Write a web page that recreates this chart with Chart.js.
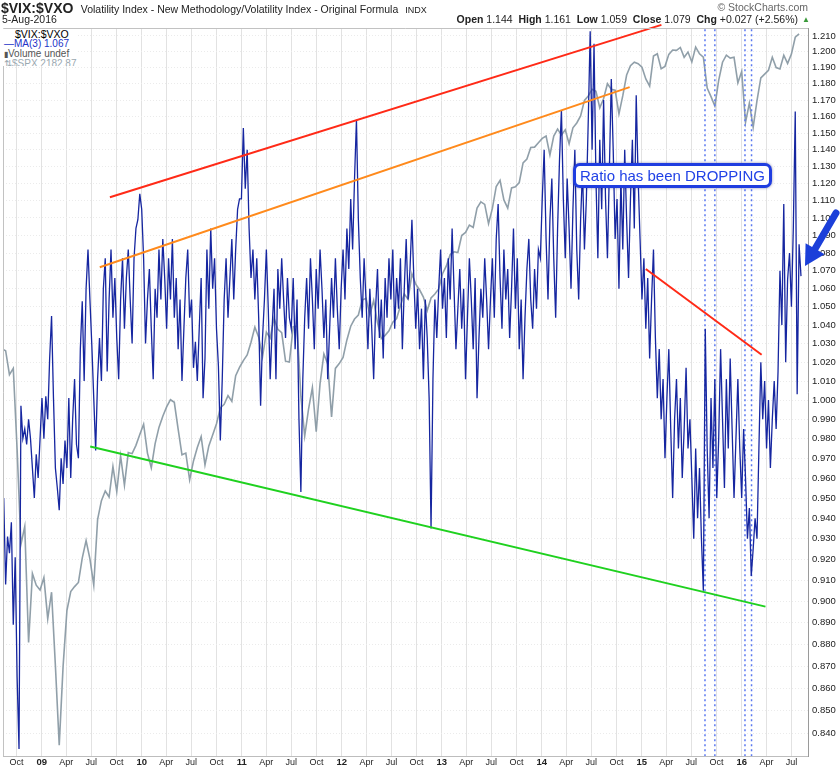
<!DOCTYPE html>
<html>
<head>
<meta charset="utf-8">
<script src="https://cdn.jsdelivr.net/npm/chart.js@4.4.1/dist/chart.umd.min.js"></script>
<style>
  body { margin: 0; background: #fff; }
  #wrap { position: relative; width: 840px; height: 768px; font-family: "Liberation Sans", Arial, sans-serif; }
  #ratioChart { position: absolute; left: 0; top: 0; }
  .txt { position: absolute; white-space: nowrap; color: #222; }
  .legend { position: absolute; left: 3px; top: 29px; width: 74px; height: 37px; background: #fff; overflow: hidden; font-size: 10px; }
  .legend div { position: absolute; left: 1px; white-space: nowrap; line-height: 10px; }
  .callout { position: absolute; left: 573px; top: 163px; width: 193px; height: 19px; border: 3px solid #1f3de0;
             border-radius: 7px; background: #fff; box-shadow: 0 0 3px rgba(0, 0, 90, 0.45);
             color: #2142e6; font-size: 15px; line-height: 19px; text-align: center; }
</style>
</head>
<body>
<div id="wrap">
  <canvas id="ratioChart" width="840" height="768"></canvas>

  <div class="txt" style="left:1px; top:0; line-height:15px;">
    <span style="font-weight:bold; font-size:14px;">$VIX:$VXO</span>
    <span style="font-size:10.5px;">&nbsp;Volatility Index - New Methodology/Volatility Index - Original Formula</span>
    <span style="font-size:9px;">&nbsp;INDX</span>
  </div>
  <div class="txt" style="left:2px; top:13px; font-size:10.5px;">5-Aug-2016</div>
  <div class="txt" style="right:32px; top:1px; font-size:10.5px; color:#666;">&copy; StockCharts.com</div>
  <div class="txt" style="right:42px; top:13px; font-size:10.5px;">
    <b>Open</b> 1.144&nbsp; <b>High</b> 1.161&nbsp; <b>Low</b> 1.059&nbsp; <b>Close</b> 1.079&nbsp; <b>Chg</b> +0.027 (+2.56%)
  </div>
  <div class="txt" style="left:802px; top:15px; font-size:8px; color:#3a9a3a;">&#9650;</div>

  <div class="legend">
    <div style="left:12px; top:0; font-size:10.5px;">$VIX:$VXO</div>
    <div style="top:10px; color:#2233c8;">&#8212;MA(3) 1.067</div>
    <div style="top:20px; color:#555;"><span style="font-size:8px;">&#9646;</span>Volume undef</div>
    <div style="top:30px; color:#9aa8b0;">&#8645;$SPX 2182.87</div>
  </div>

  <div class="callout">Ratio has been DROPPING</div>
</div>

<script>
// $VIX:$VXO MA(3), one reading a week starting 8-Aug-2008
const ratioStart = '2008-08-08';
const ratioMA3 = [
  // Aug - Dec 2008
  0.921, 0.950, 0.908, 0.931, 0.923, 0.938, 0.889, 0.921, 0.865, 0.833,
  0.997, 0.980, 0.985, 0.977, 0.990, 0.980, 0.965, 0.950, 0.972, 0.960, 0.980,
  // 2009 H1
  1.001, 0.980, 1.002, 0.990, 1.022, 1.045, 1.001, 0.965, 0.955, 0.944,
  0.970, 0.957, 0.979, 0.965, 1.001, 0.960, 0.990, 1.011, 0.977, 0.970,
  1.027, 1.053, 1.010, 1.060, 1.082, 1.054,
  // 2009 H2
  1.029, 1.001, 0.974, 1.011, 1.033, 1.010, 1.060, 1.077, 1.015, 1.054,
  1.082, 1.044, 1.066, 1.033, 1.011, 1.054, 1.077, 1.038, 1.066, 1.082,
  1.054, 1.030, 1.077, 1.094, 1.099, 1.114,
  // 2010 H1
  1.105, 1.077, 1.030, 1.054, 1.071, 1.038, 1.011, 1.060, 1.044, 1.082,
  1.054, 1.088, 1.066, 1.038, 1.077, 1.054, 1.088, 1.044, 1.066, 1.027,
  1.054, 1.010, 1.038, 1.066, 1.082, 1.044,
  // 2010 H2
  1.054, 1.017, 1.031, 1.010, 1.038, 1.066, 1.001, 1.022, 1.082, 1.049,
  1.094, 1.060, 1.077, 1.038, 1.018, 0.979, 1.011, 1.054, 1.077, 1.044,
  1.066, 1.088, 1.054, 1.082, 1.105, 1.111,
  // 2011 H1
  1.111, 1.153, 1.117, 1.140, 1.094, 1.066, 1.082, 1.054, 1.077, 1.044,
  0.997, 1.033, 1.054, 1.082, 1.049, 1.011, 1.038, 1.060, 1.011, 1.071,
  1.049, 1.077, 1.054, 1.033, 1.066, 1.044,
  // 2011 H2
  1.038, 1.066, 1.027, 1.054, 0.990, 0.953, 1.011, 1.044, 1.066, 1.038,
  1.077, 1.054, 1.027, 1.071, 1.049, 1.082, 1.060, 1.033, 1.054, 1.011,
  1.038, 1.066, 1.044, 1.077, 1.049, 1.027,
  // 2012 H1
  1.060, 1.082, 1.054, 1.094, 1.071, 1.111, 1.082, 1.123, 1.158, 1.099,
  1.066, 1.044, 1.077, 1.054, 1.027, 1.060, 1.038, 1.011, 1.049, 1.071,
  1.033, 1.054, 1.022, 1.066, 1.044, 1.077,
  // 2012 H2
  1.054, 1.082, 1.038, 1.066, 1.049, 1.077, 1.027, 1.060, 1.088, 1.054,
  1.071, 1.099, 1.066, 1.038, 1.060, 1.027, 1.049, 1.011, 1.054, 1.033,
  1.001, 0.935, 1.011, 1.054, 1.033, 1.060,
  // 2013 H1
  1.082, 1.049, 1.066, 1.033, 1.077, 1.054, 1.094, 1.060, 1.027, 1.049,
  1.071, 1.038, 1.060, 1.011, 1.044, 1.077, 1.054, 1.027, 1.066, 1.001,
  1.033, 1.060, 1.044, 1.077, 1.054, 1.027,
  // 2013 H2
  1.054, 1.077, 1.044, 1.088, 1.108, 1.066, 1.038, 1.082, 1.054, 1.071,
  1.033, 1.060, 1.094, 1.049, 1.077, 1.027, 1.054, 1.011, 1.044, 1.071,
  1.088, 1.054, 1.038, 1.071, 1.049, 1.082,
  // 2014 H1
  1.077, 1.111, 1.140, 1.088, 1.054, 1.099, 1.123, 1.077, 1.044, 1.094,
  1.134, 1.164, 1.111, 1.077, 1.123, 1.094, 1.060, 1.105, 1.140, 1.082,
  1.054, 1.099, 1.128, 1.082, 1.111, 1.158,
  // 2014 H2
  1.213, 1.140, 1.205, 1.123, 1.077, 1.146, 1.105, 1.170, 1.111, 1.077,
  1.128, 1.183, 1.140, 1.088, 1.111, 1.060, 1.123, 1.082, 1.140, 1.099,
  1.066, 1.111, 1.146, 1.094, 1.173, 1.123,
  // 2015 H1
  1.088, 1.054, 1.077, 1.038, 1.066, 1.022, 1.054, 1.082, 1.033, 1.001,
  1.027, 0.990, 1.011, 0.970, 1.001, 1.027, 0.985, 0.950, 0.990, 1.011,
  0.975, 1.001, 0.960, 0.985, 1.017, 0.975,
  // 2015 H2
  0.990, 0.960, 0.930, 0.975, 0.940, 0.965, 0.930, 0.905, 1.038, 0.975,
  0.940, 1.001, 0.965, 1.011, 0.950, 0.980, 1.027, 0.990, 0.955, 1.011,
  0.975, 1.022, 0.985, 0.950, 0.980, 1.011,
  // 2016 H1
  0.975, 0.950, 0.985, 0.960, 0.930, 0.945, 0.912, 0.925, 0.940, 0.930,
  0.975, 1.020, 0.990, 1.010, 0.975, 1.000, 0.965, 0.990, 1.010, 0.985,
  1.015, 1.070, 1.040, 1.108, 1.020, 1.065,
  // Jul - Aug 2016
  1.080, 1.050, 1.095, 1.163, 1.003, 1.085, 1.067
];

// $SPX close, every two weeks from the same start (hidden log scale)
const spxStart = '2008-08-08';
const spxClose = [
  1296, 1292, 1242, 1255, 1099, 940, 968, 800, 896, 879, 872,
  890, 832, 869, 770, 676, 769, 843, 870, 877, 883, 919, 946, 918,
  879, 979, 1010, 1026, 1016, 1068, 1025, 1087, 1036, 1093, 1091, 1106, 1126,
  1145, 1092, 1066, 1109, 1139, 1160, 1178, 1192, 1187, 1136, 1089, 1092, 1045,
  1078, 1102, 1122, 1071, 1105, 1125, 1146, 1176, 1183, 1200, 1189, 1240, 1257,
  1271, 1283, 1310, 1343, 1321, 1279, 1332, 1319, 1363, 1338, 1331, 1270, 1268,
  1344, 1345, 1199, 1123, 1174, 1216, 1131, 1224, 1285, 1264, 1159, 1255, 1265,
  1278, 1315, 1345, 1361, 1370, 1404, 1408, 1370, 1403, 1353, 1318, 1325, 1335,
  1354, 1362, 1391, 1418, 1406, 1466, 1441, 1428, 1411, 1380, 1409, 1418, 1430,
  1466, 1485, 1513, 1520, 1518, 1561, 1569, 1588, 1582, 1633, 1650, 1643, 1592,
  1632, 1692, 1709, 1655, 1633, 1688, 1691, 1703, 1759, 1770, 1804, 1805, 1818,
  1831, 1838, 1782, 1838, 1859, 1841, 1857, 1815, 1863, 1878, 1900, 1949, 1963,
  1985, 1978, 1925, 1955, 2003, 1985, 1982, 1906, 1964, 2032, 2063, 2075, 2070,
  2058, 2019, 1995, 2096, 2104, 2053, 2061, 2102, 2117, 2116, 2126, 2092, 2110,
  2076, 2127, 2104, 2092, 1989, 1961, 1931, 2014, 2075, 2099, 2089, 2092, 2006,
  2044, 1880, 1940, 1865, 1948, 2022, 2035, 2048, 2092, 2057, 2052, 2099, 2071,
  2103, 2162, 2174
];

// quarter ticks on the date axis, first one is Oct 2008
const quarterStart = '2008-10-01';
const quarterLabels = [
  'Oct', '09', 'Apr', 'Jul', 'Oct', '10', 'Apr', 'Jul', 'Oct', '11', 'Apr', 'Jul',
  'Oct', '12', 'Apr', 'Jul', 'Oct', '13', 'Apr', 'Jul', 'Oct', '14', 'Apr', 'Jul',
  'Oct', '15', 'Apr', 'Jul', 'Oct', '16', 'Apr', 'Jul'
];

const ratioTicks = [
  0.84, 0.85, 0.86, 0.87, 0.88, 0.89, 0.90, 0.91, 0.92, 0.93, 0.94, 0.95, 0.96,
  0.97, 0.98, 0.99, 1.00, 1.01, 1.02, 1.03, 1.04, 1.05, 1.06, 1.07, 1.08, 1.09,
  1.10, 1.11, 1.12, 1.13, 1.14, 1.15, 1.16, 1.17, 1.18, 1.19, 1.20, 1.21
];

// hand drawn trend lines: [date, ratio] at each end
const trendLines = [
  { color: '#ff2a17', from: ['2009-09-07', 1.112], to: ['2015-03-14', 1.217] },
  { color: '#ff8a1c', from: ['2009-08-01', 1.072], to: ['2014-11-18', 1.178] },
  { color: '#1fd11f', from: ['2009-06-27', 0.976], to: ['2016-03-28', 0.8975] },
  { color: '#ff2a17', from: ['2015-01-16', 1.071], to: ['2016-03-14', 1.024] }
];

// dotted blue event markers
const markerDates = ['2015-08-20', '2015-09-25', '2016-01-13', '2016-02-06'];

const FONT = '"Liberation Sans", Arial, sans-serif';

function toDate(s) { return new Date(s + 'T00:00:00Z'); }

function yearFrac(d) {
    if (typeof d === 'string') d = toDate(d);
    const y = d.getUTCFullYear();
    const a = Date.UTC(y, 0, 1), b = Date.UTC(y + 1, 0, 1);
    return y + (d - a) / (b - a);
}

function addDays(s, n) {
    const d = toDate(s);
    d.setUTCDate(d.getUTCDate() + n);
    return d;
}

function addMonths(s, n) {
    const d = toDate(s);
    d.setUTCMonth(d.getUTCMonth() + n);
    return d;
}

const ratioPoints = ratioMA3.map((v, i) => ({ x: yearFrac(addDays(ratioStart, 7 * i)), y: v }));
const spxPoints = spxClose.map((v, i) => ({ x: yearFrac(addDays(spxStart, 14 * i)), y: v }));

const datasets = [];

trendLines.forEach(t => {
    datasets.push({
        data: [{ x: yearFrac(t.from[0]), y: t.from[1] }, { x: yearFrac(t.to[0]), y: t.to[1] }],
        borderColor: t.color,
        borderWidth: 2,
        pointRadius: 0,
        clip: 6,
        order: 0
    });
});

datasets.push({
    data: ratioPoints,
    borderColor: 'rgb(22, 38, 160)',
    borderWidth: 1.3,
    pointRadius: 0,
    tension: 0,
    order: 1
});

markerDates.forEach(d => {
    datasets.push({
        data: [{ x: yearFrac(d), y: 0.8 }, { x: yearFrac(d), y: 1.25 }],
        borderColor: '#5a78f0',
        borderWidth: 1.5,
        borderDash: [2, 3],
        pointRadius: 0,
        order: 2
    });
});

datasets.push({
    data: spxPoints,
    yAxisID: 'spx',
    borderColor: 'rgba(138, 154, 164, 0.95)',
    borderWidth: 1.6,
    pointRadius: 0,
    tension: 0,
    order: 3
});

// frame lines plus the big blue arrow on the right
const framePlugin = {
    id: 'frame',
    afterDraw(chart) {
        const { ctx, chartArea: a } = chart;
        ctx.save();
        ctx.strokeStyle = '#c2c2c2';
        ctx.lineWidth = 1;
        ctx.beginPath();
        ctx.moveTo(a.left + 0.5, a.bottom);
        ctx.lineTo(a.left + 0.5, a.top + 0.5);
        ctx.lineTo(a.right, a.top + 0.5);
        ctx.stroke();

        const tail = { x: 836, y: 213 }, tip = { x: 805, y: 266 };
        const dx = tip.x - tail.x, dy = tip.y - tail.y;
        const len = Math.hypot(dx, dy);
        const ux = dx / len, uy = dy / len;
        const nx = -uy, ny = ux;
        const base = { x: tip.x - ux * 20, y: tip.y - uy * 20 };
        ctx.strokeStyle = '#1b3fd9';
        ctx.fillStyle = '#1b3fd9';
        ctx.lineWidth = 7;
        ctx.lineCap = 'round';
        ctx.beginPath();
        ctx.moveTo(tail.x, tail.y);
        ctx.lineTo(base.x, base.y);
        ctx.stroke();
        ctx.beginPath();
        ctx.moveTo(tip.x, tip.y);
        ctx.lineTo(base.x + nx * 11, base.y + ny * 11);
        ctx.lineTo(base.x - nx * 11, base.y - ny * 11);
        ctx.closePath();
        ctx.fill();
        ctx.restore();
    }
};

new Chart(document.getElementById('ratioChart').getContext('2d'), {
    type: 'line',
    data: { datasets: datasets },
    options: {
        responsive: false,
        animation: false,
        layout: { padding: { left: 3, top: 28, right: 0, bottom: 0 } },
        plugins: { legend: { display: false }, tooltip: { enabled: false } },
        scales: {
            x: {
                type: 'linear',
                min: 2008.613,
                max: 2016.663,
                afterBuildTicks: s => {
                    s.ticks = quarterLabels.map((_, i) => ({ value: yearFrac(addMonths(quarterStart, 3 * i)) }));
                },
                afterFit: s => { s.height = 12; },
                ticks: {
                    autoSkip: false,
                    maxRotation: 0,
                    padding: 1,
                    color: '#222',
                    font: ctx => {
                        const yr = /^\d\d$/.test(quarterLabels[ctx.index] || '');
                        return { family: FONT, size: yr ? 9.5 : 9, weight: yr ? 'bold' : 'normal' };
                    },
                    callback: (v, i) => quarterLabels[i]
                },
                grid: { color: '#e2e2e2', drawTicks: false },
                border: { color: '#bdbdbd' }
            },
            y: {
                type: 'logarithmic',
                position: 'right',
                min: 0.8313,
                max: 1.2150,
                afterBuildTicks: s => { s.ticks = ratioTicks.map(v => ({ value: v })); },
                afterFit: s => { s.width = 32; },
                ticks: {
                    autoSkip: false,
                    padding: 4,
                    color: '#222',
                    font: { family: FONT, size: 9.5 },
                    callback: v => Number(v).toFixed(3)
                },
                grid: { color: '#ebebeb', drawTicks: false },
                border: { color: '#9a9a9a', dash: [1, 2] }
            },
            spx: {
                type: 'logarithmic',
                display: false,
                min: 664,
                max: 2195
            }
        }
    },
    plugins: [framePlugin]
});
</script>
</body>
</html>
